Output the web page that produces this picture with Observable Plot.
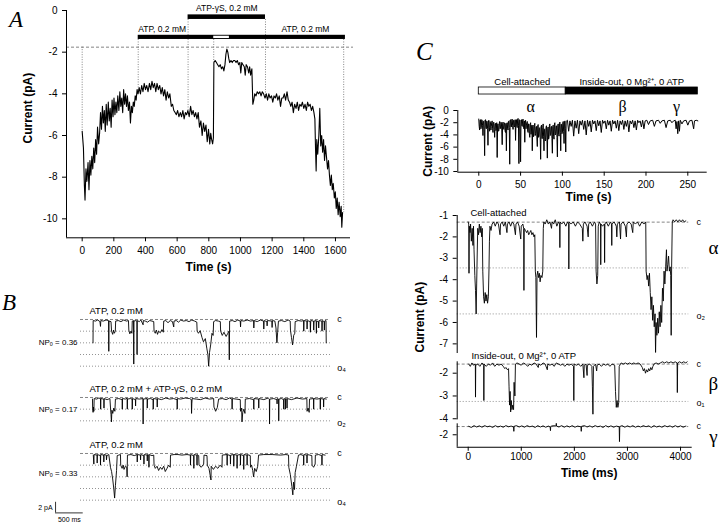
<!DOCTYPE html>
<html><head><meta charset="utf-8">
<script src="https://cdn.jsdelivr.net/npm/d3@7"></script>
<script src="https://cdn.jsdelivr.net/npm/@observablehq/plot@0.6"></script>
<style>
html,body{margin:0;padding:0;background:#fff;}
#page{position:relative;width:720px;height:526px;overflow:hidden;background:#fff;font-family:"Liberation Sans",Arial,sans-serif;}
#page svg{position:absolute;overflow:visible;}
.letter{position:absolute;font-family:"Liberation Serif","Times New Roman",serif;font-style:italic;line-height:1;color:#000;}
</style></head><body><div id="page"></div>
<script>
// ---------------- Panel A data ----------------
const timeTicksA = [0,200,400,600,800,1000,1200,1400,1600];
const currentTicksA = [0,-2,-4,-6,-8,-10];
const traceA = [
[0,-5.8],[8,-6.6],[14,-8.4],[18,-9.1],[24,-7.6],[30,-8.2],[37,-7.3],[43,-8.6],[49,-7.2],[55,-7.9],
[61,-7.0],[67,-7.6],[73,-6.6],[79,-7.3],[85,-6.2],[91,-6.9],[97,-5.6],[104,-6.4],[110,-5.9],[116,-4.9],
[122,-5.7],[128,-4.6],[134,-5.4],[140,-4.8],[146,-5.8],[152,-4.5],[158,-5.5],[165,-4.4],[171,-5.3],[177,-4.7],
[183,-5.6],[189,-4.3],[195,-5.1],[201,-4.2],[207,-5.0],[213,-4.4],[219,-4.9],[225,-4.1],[232,-4.8],[238,-3.9],
[244,-4.6],[250,-4.2],[256,-4.9],[262,-3.8],[268,-4.5],[274,-4.0],[280,-4.6],[286,-4.1],[292,-4.8],[299,-4.4],
[305,-5.4],[311,-4.6],[317,-4.9],[323,-4.4],[329,-4.6],[335,-4.1],[341,-4.3],[347,-3.8],[353,-4.0],[360,-3.7],
[368,-4.0],[376,-3.6],[384,-3.9],[392,-3.5],[400,-3.8],[408,-3.6],[416,-3.9],[425,-3.5],[433,-3.8],[441,-3.4],
[449,-3.7],[457,-3.5],[465,-3.9],[473,-3.5],[481,-3.8],[490,-3.6],[498,-4.0],[506,-3.7],[514,-4.1],[522,-3.8],
[530,-4.3],[538,-3.9],[546,-4.2],[554,-4.0],[563,-4.6],[571,-4.5],[579,-4.8],[587,-4.9],[595,-5.0],[603,-4.8],
[611,-5.1],[620,-4.9],[628,-5.1],[636,-4.8],[644,-5.2],[652,-4.9],[660,-5.0],[668,-4.8],[676,-5.1],[685,-4.6],
[693,-5.0],[701,-4.8],[709,-5.1],[717,-4.9],[725,-5.2],[733,-4.9],[741,-5.6],[750,-5.3],[758,-6.0],[766,-5.4],
[774,-5.8],[782,-5.5],[790,-6.3],[798,-5.7],[806,-6.4],[812,-5.9],[818,-6.2],[824,-6.4],[829,-6.1],[832,-2.5],
[840,-2.4],[848,-2.5],[856,-2.6],[864,-2.7],[872,-2.6],[880,-2.8],[888,-2.7],[895,-2.9],[902,-2.6],[908,-2.1],
[914,-1.85],[920,-2.0],[926,-2.3],[932,-2.5],[940,-2.4],[948,-2.5],[956,-2.4],[964,-2.4],[972,-2.5],[980,-2.4],
[988,-2.6],[996,-2.5],[1002,-3.0],[1008,-2.5],[1016,-2.6],[1024,-2.7],[1030,-3.1],[1036,-2.6],[1044,-2.7],[1052,-3.0],
[1058,-2.7],[1064,-3.1],[1072,-2.8],[1078,-4.5],[1084,-4.3],[1090,-4.0],[1098,-4.1],[1106,-3.9],[1114,-4.0],[1122,-3.9],
[1130,-4.1],[1138,-3.9],[1146,-4.0],[1155,-4.2],[1163,-4.0],[1171,-4.3],[1179,-4.0],[1187,-4.2],[1196,-4.1],[1204,-4.4],
[1212,-4.1],[1220,-4.2],[1228,-4.0],[1236,-4.3],[1245,-4.1],[1253,-4.6],[1261,-4.2],[1269,-4.2],[1277,-4.0],[1285,-4.3],
[1294,-3.9],[1302,-4.3],[1310,-4.4],[1318,-4.6],[1326,-4.4],[1334,-4.9],[1342,-4.5],[1351,-4.7],[1359,-4.4],[1367,-4.8],
[1375,-4.5],[1383,-4.6],[1391,-4.4],[1400,-4.7],[1408,-4.5],[1416,-4.8],[1424,-4.4],[1432,-4.6],[1440,-4.5],[1448,-4.8],
[1456,-4.6],[1464,-4.9],[1470,-5.2],[1474,-6.6],[1478,-7.7],[1482,-6.2],[1488,-6.9],[1495,-6.0],[1501,-4.7],[1507,-6.5],
[1513,-6.0],[1519,-6.8],[1525,-6.2],[1531,-7.2],[1537,-6.5],[1543,-7.0],[1550,-7.6],[1556,-7.2],[1562,-7.9],[1568,-8.4],
[1574,-7.9],[1580,-8.6],[1586,-8.3],[1593,-9.0],[1599,-8.7],[1605,-9.5],[1611,-9.0],[1617,-9.8],[1623,-9.2],[1630,-9.9],
[1636,-9.4],[1640,-10.4],[1645,-9.7]
];
const atpBar = [354, 1663];
const atpGap = [831, 930];
const gsBar = [669, 1158];
const refLevelA = -1.76;
const guideTimesA = [0, 354, 669, 831, 1158, 1652];
const labelsA = ["ATP, 0.2 mM", "ATP-\u03B3S, 0.2 mM", "ATP, 0.2 mM"];

// ---------------- Panel B data ----------------
const levelsB1 = [0,-2.2,-4.4,-6.6,-8.8];
const levelsB2 = [0,-2.2,-4.4];
const levelsB3 = [0,-2.2,-4.4,-6.6,-8.8];
const titlesB = ["ATP, 0.2 mM", "ATP, 0.2 mM + ATP-\u03B3S, 0.2 mM", "ATP, 0.2 mM"];
const npoB = ["0.36", "0.17", "0.33"];
const openLabelsB = ["o\u2084", "o\u2082", "o\u2084"];
const scaleBarB = [500, 2]; // ms, pA
const traceB1 = [
[15,-4.4],[18,-0.2],[60,-0.3],[100,-0.1],[140,-0.4],[150,-1.3],[156,-0.2],[200,-0.3],[250,-0.1],[296,-0.2],
[300,-6.0],[304,-0.3],[340,-0.4],[350,-2.2],[370,-2.8],[385,-2.0],[400,-2.6],[418,-2.2],[424,-0.3],[470,-0.2],
[520,-0.4],[570,-0.1],[620,-0.3],[655,-0.2],[662,-2.0],[680,-2.7],[700,-2.2],[718,-2.6],[724,-0.3],[748,-0.2],
[751,-8.4],[754,-0.3],[790,-0.2],[808,-0.3],[811,-6.6],[814,-0.2],[850,-0.4],[880,-0.1],[920,-1.0],[924,-0.2],
[960,-0.3],[1000,-0.5],[1040,-0.2],[1080,-0.3],[1112,-0.4],[1118,-2.2],[1140,-2.6],[1160,-2.0],[1180,-2.8],[1200,-2.2],
[1230,-2.5],[1260,-1.9],[1285,-2.4],[1292,-0.3],[1330,-0.2],[1370,-0.6],[1410,-0.2],[1450,-0.4],[1473,-1.4],[1478,-0.3],
[1520,-0.2],[1560,-0.5],[1600,-0.1],[1650,-0.3],[1700,-0.2],[1750,-0.4],[1800,-0.1],[1850,-0.3],[1890,-0.5],[1896,-2.2],
[1920,-2.6],[1950,-2.1],[1984,-3.4],[2010,-4.2],[2044,-3.6],[2070,-5.4],[2090,-6.6],[2104,-8.8],[2120,-6.2],[2140,-4.8],
[2164,-2.6],[2185,-3.0],[2194,-0.4],[2230,-0.2],[2280,-0.3],[2315,-0.4],[2320,-2.2],[2350,-3.0],[2380,-2.4],[2420,-3.2],
[2450,-2.6],[2470,-2.2],[2477,-7.6],[2483,-0.3],[2530,-0.2],[2580,-0.4],[2630,-0.1],[2675,-0.3],[2680,-1.4],[2686,-0.2],
[2740,-0.3],[2800,-0.1],[2860,-0.3],[2916,-0.2],[2920,-1.6],[2926,-0.2],[2980,-0.4],[3040,-0.1],[3096,-0.3],[3100,-1.8],
[3106,-0.2],[3156,-0.4],[3160,-1.2],[3166,-0.2],[3246,-0.3],[3250,-1.5],[3256,-0.2],[3300,-0.3],[3320,-1.6],[3337,-4.4],
[3350,-2.4],[3365,-0.3],[3420,-0.2],[3480,-0.4],[3540,-0.1],[3577,-0.3],[3582,-2.0],[3600,-3.4],[3620,-4.8],[3640,-3.0],
[3660,-2.6],[3667,-0.4],[3720,-0.2],[3780,-0.3],[3818,-0.2],[3822,-2.2],[3828,-0.2],[3878,-0.3],[3882,-1.8],[3888,-0.2],
[3938,-0.4],[3942,-2.4],[3948,-0.2],[3998,-0.3],[4002,-2.0],[4008,-0.3],[4046,-0.2],[4050,-2.6],[4056,-0.3],[4088,-0.4],
[4092,-1.6],[4098,-0.2],[4148,-0.3],[4152,-2.2],[4158,-0.2],[4190,-0.4],[4194,-2.0],[4200,-0.3],[4224,-0.2],[4228,-4.4]
];
const traceB2 = [
[5,-0.3],[8,-2.0],[16,-2.8],[24,-1.8],[30,-2.6],[36,-0.2],[80,-0.3],[120,-0.1],[150,-0.2],[153,-2.2],
[157,-0.2],[210,-0.3],[213,-2.0],[217,-0.2],[270,-0.4],[320,-0.2],[330,-1.8],[340,-3.2],[348,-4.6],[356,-2.4],
[372,-3.0],[390,-2.0],[410,-2.6],[420,-0.3],[480,-0.2],[541,-0.4],[544,-2.2],[548,-0.2],[600,-0.3],[631,-0.1],
[634,-2.2],[638,-0.3],[690,-0.2],[721,-0.3],[724,-2.2],[728,-0.2],[781,-0.4],[784,-1.6],[788,-0.2],[850,-0.3],
[917,-0.2],[920,-5.0],[924,-0.3],[992,-0.2],[995,-2.0],[999,-0.3],[1050,-0.2],[1100,-0.4],[1103,-2.2],[1107,-0.2],
[1172,-0.3],[1175,-1.8],[1179,-0.2],[1250,-0.4],[1330,-0.1],[1400,-0.3],[1470,-0.2],[1533,-0.4],[1536,-2.2],[1540,-0.2],
[1600,-0.3],[1680,-0.1],[1760,-0.2],[1791,-0.4],[1795,-3.0],[1800,-1.2],[1806,-0.2],[1880,-0.3],[1960,-0.4],[2040,-0.1],
[2120,-0.3],[2194,-0.2],[2200,-1.8],[2230,-2.6],[2260,-1.9],[2284,-0.3],[2350,-0.2],[2420,-0.4],[2480,-0.1],[2525,-0.3],
[2528,-2.2],[2532,-0.2],[2600,-0.3],[2675,-0.4],[2680,-2.6],[2700,-2.0],[2706,-4.6],[2720,-2.8],[2740,-2.2],[2760,-3.0],
[2766,-0.3],[2840,-0.2],[2916,-0.4],[2919,-2.2],[2923,-0.2],[3006,-0.3],[3009,-2.0],[3013,-0.2],[3100,-0.4],[3180,-0.1],
[3201,-0.3],[3204,-5.0],[3208,-0.3],[3280,-0.2],[3337,-0.4],[3340,-1.2],[3344,-0.2],[3367,-0.3],[3370,-4.4],[3374,-0.3],
[3420,-0.2],[3457,-0.4],[3460,-2.2],[3464,-0.2],[3487,-0.3],[3490,-2.2],[3494,-0.2],[3517,-0.3],[3520,-2.0],[3524,-0.2],
[3600,-0.4],[3700,-0.1],[3800,-0.3],[3878,-0.2],[3882,-2.6],[3900,-2.0],[3920,-2.8],[3926,-0.3],[3998,-0.2],[4001,-2.2],
[4005,-0.2],[4060,-0.3],[4118,-0.2],[4121,-2.2],[4125,-0.2],[4178,-0.3],[4181,-1.8],[4185,-0.2],[4230,-0.3]
];
const traceB3 = [
[20,-0.3],[30,-2.0],[34,-0.2],[88,-0.3],[90,-1.8],[94,-0.2],[148,-0.4],[150,-2.2],[154,-0.2],[208,-0.3],
[210,-1.6],[214,-0.2],[255,-0.3],[258,-1.2],[265,-0.4],[300,-0.2],[330,-2.6],[350,-3.4],[370,-4.8],[390,-6.6],
[405,-8.4],[420,-6.0],[440,-3.2],[452,-0.4],[480,-0.3],[511,-0.2],[515,-2.2],[540,-2.8],[560,-2.2],[575,-3.0],
[600,-2.4],[625,-2.6],[631,-4.4],[637,-0.3],[700,-0.2],[760,-0.4],[811,-0.2],[814,-1.6],[818,-0.2],[871,-0.3],
[874,-1.2],[878,-0.2],[932,-0.4],[935,-2.0],[939,-0.2],[992,-0.3],[995,-1.4],[999,-0.2],[1022,-0.3],[1025,-2.6],
[1029,-0.2],[1080,-0.4],[1112,-0.3],[1118,-2.2],[1140,-2.8],[1172,-2.4],[1200,-3.2],[1232,-2.6],[1260,-3.0],[1292,-2.4],
[1320,-3.4],[1352,-2.8],[1380,-2.2],[1410,-2.6],[1415,-0.3],[1480,-0.2],[1550,-0.2],[1620,-0.3],[1713,-0.2],[1773,-0.3],
[1776,-2.2],[1780,-0.2],[1833,-0.4],[1836,-2.8],[1840,-0.2],[1890,-0.3],[1894,-2.2],[1898,-0.2],[1924,-0.4],[1930,-2.2],
[1970,-2.6],[2014,-2.0],[2020,-0.3],[2074,-0.4],[2080,-2.2],[2110,-2.8],[2146,-5.0],[2150,-2.4],[2190,-3.0],[2230,-2.4],
[2270,-2.8],[2310,-2.2],[2345,-2.6],[2350,-0.3],[2435,-0.2],[2438,-2.2],[2442,-0.2],[2495,-0.4],[2498,-2.0],[2502,-0.3],
[2555,-0.2],[2558,-2.4],[2562,-0.2],[2615,-0.3],[2618,-2.8],[2622,-0.3],[2675,-0.2],[2678,-2.2],[2682,-0.2],[2735,-0.4],
[2738,-3.0],[2742,-0.2],[2796,-0.3],[2799,-2.2],[2803,-0.2],[2856,-0.4],[2860,-2.6],[2880,-2.2],[2900,-3.2],[2916,-4.4],
[2935,-2.8],[2964,-3.4],[2990,-2.4],[3006,-0.3],[3100,-0.2],[3250,-0.2],[3400,-0.3],[3500,-0.2],[3547,-0.3],[3552,-2.6],
[3580,-4.0],[3607,-6.2],[3625,-7.8],[3637,-5.4],[3655,-6.8],[3667,-3.6],[3690,-2.4],[3727,-0.3],[3770,-0.2],[3818,-0.4],
[3821,-2.2],[3825,-0.2],[3878,-0.3],[3881,-1.8],[3885,-0.2],[3930,-0.3],[3968,-0.4],[3972,-2.2],[4000,-2.6],[4028,-2.0],
[4032,-0.3],[4090,-0.2],[4148,-0.4],[4151,-2.2],[4155,-0.2],[4208,-0.3]
];

// ---------------- Panel C data ----------------
const timeTicksC = [0,50,100,150,200,250];
const currentTicksC = [0,-2,-4,-6,-8,-10];
const cellAttachedBar = [0, 104];
const insideOutBar = [104, 262];
const barLabelsC = ["Cell-attached", "Inside-out, 0 Mg\u00B2\u207A, 0 ATP"];
const greekC = ["\u03B1", "\u03B2", "\u03B3"];
const greekTimesC = [62, 172, 236.5];
const traceCtop = [
[0,-1.4],[0.5,-2.6],[1,-3.2],[1.5,-1.6],[2,-1.5],[2.5,-3.0],[3,-2.8],[3.5,-1.5],[4,-1.6],[4.5,-2.4],[5,-4.1],[5.5,-1.8],[6,-1.7],[6.5,-3.1],[7,-7.4],[7.5,-1.6],[8,-1.5],[8.5,-2.7],[9,-3.0],[9.5,-1.7],
[10,-1.8],[10.5,-2.9],[11,-5.7],[11.5,-1.9],[12,-1.6],[12.5,-2.8],[13,-3.4],[13.5,-1.8],[14,-2.0],[14.5,-3.2],[15,-2.6],[15.5,-1.9],[16,-1.7],[16.5,-2.9],[17,-3.6],[17.5,-2.0],[18,-1.9],[18.5,-3.1],[19,-4.4],[19.5,-2.2],
[20,-2.1],[20.5,-3.3],[21,-3.0],[21.5,-2.0],[22,-7.7],[22.5,-2.4],[23,-2.2],[23.5,-3.4],[24,-3.3],[24.5,-2.1],[25,-1.8],[25.5,-3.0],[26,-2.9],[26.5,-1.9],[27,-2.0],[27.5,-3.2],[28,-5.6],[28.5,-2.2],[29,-1.9],[29.5,-3.0],
[30,-3.1],[30.5,-2.0],[31,-2.2],[31.5,-3.4],[32,-3.6],[32.5,-2.1],[33,-6.6],[33.5,-2.3],[34,-2.0],[34.5,-3.0],[35,-3.2],[35.5,-1.8],[36,-1.7],[36.5,-2.8],[37,-8.8],[37.5,-1.6],[38,-1.5],[38.5,-2.6],[39,-2.7],[39.5,-1.5],
[40,-1.4],[40.5,-2.5],[41,-3.1],[41.5,-1.6],[42,-1.6],[42.5,-2.7],[43,-2.5],[43.5,-1.5],[44,-4.9],[44.5,-1.7],[45,-1.5],[45.5,-2.6],[46,-2.8],[46.5,-1.4],[47,-1.3],[47.5,-2.4],[48,-8.7],[48.5,-1.5],[49,-1.6],[49.5,-2.9],
[50,-8.4],[50.5,-1.6],[51,-1.5],[51.5,-2.5],[52,-2.6],[52.5,-1.5],[53,-1.4],[53.5,-2.8],[54,-3.0],[54.5,-1.7],[55,-5.2],[55.5,-1.9],[56,-1.6],[56.5,-3.0],[57,-2.4],[57.5,-2.0],[58,-1.8],[58.5,-3.4],[59,-3.6],[59.5,-2.2],
[60,-2.2],[60.5,-3.8],[61,-4.4],[61.5,-2.3],[62,-2.0],[62.5,-3.9],[63,-3.2],[63.5,-2.4],[64,-6.6],[64.5,-2.6],[65,-2.4],[65.5,-4.3],[66,-4.0],[66.5,-2.5],[67,-2.1],[67.5,-4.1],[68,-3.8],[68.5,-2.7],[69,-2.6],[69.5,-4.5],
[70,-5.9],[70.5,-2.5],[71,-2.3],[71.5,-4.4],[72,-4.2],[72.5,-2.9],[73,-2.8],[73.5,-4.8],[74,-8.0],[74.5,-2.6],[75,-2.4],[75.5,-4.6],[76,-4.6],[76.5,-2.8],[77,-2.2],[77.5,-4.2],[78,-6.6],[78.5,-3.1],[79,-3.0],[79.5,-5.0],
[80,-4.8],[80.5,-2.7],[81,-2.5],[81.5,-4.5],[82,-7.8],[82.5,-2.9],[83,-2.7],[83.5,-4.7],[84,-4.4],[84.5,-2.4],[85,-2.2],[85.5,-4.1],[86,-3.9],[86.5,-2.8],[87,-2.6],[87.5,-4.6],[88,-7.0],[88.5,-2.6],[89,-2.4],[89.5,-4.3],
[90,-4.7],[90.5,-2.2],[91,-2.0],[91.5,-4.0],[92,-3.8],[92.5,-2.6],[93,-2.5],[93.5,-4.4],[94,-7.6],[94.5,-2.4],[95,-2.2],[95.5,-3.9],[96,-4.2],[96.5,-2.1],[97,-1.9],[97.5,-3.6],[98,-6.6],[98.5,-2.2],[99,-2.3],[99.5,-3.8],
[100,-3.6],[100.5,-2.0],[101,-1.8],[101.5,-3.4],[102,-5.4],[102.5,-1.8],[103,-1.7],[103.5,-3.0],[104,-6.8],[104.5,-1.8],[105,-1.7],
[106,-1.6],[107.5,-3.4],[109,-1.7],[110.5,-2.6],[112,-1.6],[113.5,-4.2],[115,-1.7],[116.5,-2.9],[118,-1.6],[119.5,-3.8],
[121,-1.7],[122.5,-2.4],[124,-1.6],[125.5,-3.1],[127,-1.7],[128.5,-4.0],[130,-1.6],[131.5,-2.6],[133,-1.7],[134.5,-3.5],
[136,-1.6],[137.5,-2.2],[139,-1.7],[140.5,-3.3],[142,-1.6],[143.5,-2.5],[145,-1.7],[146.5,-3.6],[148,-1.6],[149.5,-2.1],
[151,-1.7],[152.5,-3.0],[154,-1.6],[155.5,-2.4],[157,-1.7],[158.5,-3.4],[160,-1.6],[161.5,-2.2],[163,-1.7],[164.5,-2.9],
[166,-1.6],[167.5,-3.3],[169,-1.7],[170.5,-2.3],[172,-1.6],[173.5,-3.1],[175,-1.7],[176.5,-2.6],[178,-1.6],[179.5,-3.5],
[181,-1.7],[182.5,-2.2],[184,-1.6],[185.5,-2.8],[187,-1.7],[188.5,-3.2],[190,-1.6],[191.5,-2.0],[193,-1.7],[194.5,-2.7],
[196,-1.6],[197.5,-3.0],[199,-1.7],[201,-1.6],[203,-2.3],[205,-1.7],[208,-1.6],[210,-2.6],[212,-1.7],[215,-1.6],
[217,-2.1],[219,-1.7],[222,-1.6],[224,-2.8],[226,-1.7],[229,-1.6],[231,-2.0],[233,-1.7],[235,-1.6],[236,-3.0],
[237,-1.8],[238,-3.8],[239,-1.7],[240,-3.4],[241,-1.6],[243,-2.2],[245,-1.7],[248,-1.6],[250,-2.4],[252,-1.7],
[255,-1.6],[257,-3.0],[258,-1.7],[260,-1.6],[262,-1.7]
];
const msTicks = [0,1000,2000,3000,4000];
const alphaTicks = [-1,-2,-3,-4,-5,-6,-7];
const betaTicks = [-2,-3,-4];
const gammaTicks = [-2];
const levelsAlpha = [-1.31, -3.45, -5.6];
const levelsBeta = [-1.6, -3.24];
const levelsGamma = [-1.64];
const traceAlpha = [
[0,-1.3],[10,-1.4],[15,-3.7],[22,-1.5],[35,-1.8],[45,-1.4],[60,-2.2],[75,-1.6],[90,-2.4],[100,-1.5],
[110,-2.6],[125,-3.8],[138,-4.5],[150,-5.6],[160,-4.2],[170,-2.8],[180,-1.6],[195,-1.9],[210,-1.4],[225,-1.8],
[240,-1.5],[255,-2.0],[265,-1.6],[275,-3.6],[290,-4.8],[305,-5.1],[320,-4.6],[335,-5.0],[350,-4.7],[365,-5.1],
[380,-4.8],[392,-3.5],[400,-2.2],[410,-1.5],[430,-1.7],[450,-1.4],[480,-1.3],[510,-1.5],[540,-1.3],[570,-1.4],
[600,-1.9],[610,-1.4],[640,-1.3],[670,-1.5],[700,-1.3],[730,-1.8],[740,-1.4],[770,-1.3],[800,-1.5],[830,-1.3],
[860,-1.4],[890,-1.9],[900,-1.4],[930,-1.3],[960,-1.5],[990,-2.1],[1000,-1.5],[1030,-1.4],[1045,-1.6],[1050,-4.5],
[1056,-1.6],[1080,-1.7],[1100,-1.8],[1120,-1.7],[1140,-1.9],[1160,-1.8],[1180,-1.7],[1200,-1.9],[1220,-1.8],[1240,-2.0],
[1255,-1.9],[1265,-3.6],[1275,-3.9],[1287,-6.7],[1297,-3.8],[1310,-3.6],[1325,-3.9],[1340,-3.7],[1355,-4.1],[1370,-3.8],
[1390,-3.9],[1405,-3.6],[1415,-1.6],[1425,-1.3],[1450,-1.4],[1480,-1.2],[1510,-1.4],[1540,-1.3],[1570,-1.6],[1580,-1.3],
[1610,-1.4],[1640,-1.2],[1670,-1.5],[1700,-1.3],[1722,-1.4],[1727,-2.5],[1732,-1.3],[1760,-1.4],[1800,-1.3],[1840,-1.5],
[1870,-1.3],[1893,-1.4],[1896,-3.5],[1900,-1.3],[1940,-1.4],[1980,-1.3],[2020,-1.5],[2060,-1.3],[2100,-1.4],[2150,-1.6],
[2160,-2.2],[2170,-1.4],[2200,-1.3],[2240,-1.5],[2260,-2.0],[2270,-1.4],[2300,-1.3],[2340,-1.5],[2380,-1.3],[2400,-1.4],
[2410,-3.6],[2425,-4.2],[2440,-3.8],[2450,-1.5],[2470,-1.3],[2493,-1.4],[2497,-3.3],[2502,-1.4],[2530,-1.5],[2565,-1.4],
[2570,-3.2],[2575,-1.4],[2600,-1.3],[2640,-1.5],[2680,-1.3],[2700,-1.4],[2705,-2.4],[2710,-1.4],[2750,-1.3],[2790,-1.5],
[2800,-2.0],[2810,-1.4],[2850,-1.3],[2870,-2.1],[2880,-1.4],[2920,-1.3],[2960,-1.5],[2980,-2.0],[2990,-1.4],[3030,-1.3],
[3070,-1.4],[3100,-1.8],[3110,-1.3],[3150,-1.4],[3190,-1.3],[3230,-1.5],[3270,-1.3],[3310,-1.4],[3345,-1.3],[3352,-3.6],
[3370,-4.0],[3385,-3.8],[3400,-4.3],[3415,-3.7],[3430,-4.6],[3445,-5.4],[3460,-4.8],[3475,-5.9],[3490,-5.2],[3505,-6.2],
[3520,-5.6],[3530,-7.4],[3540,-6.0],[3555,-6.6],[3570,-5.8],[3585,-6.5],[3600,-5.5],[3615,-6.2],[3630,-5.2],[3645,-6.0],
[3660,-4.4],[3675,-5.0],[3690,-3.6],[3705,-4.2],[3720,-3.4],[3735,-2.6],[3745,-3.6],[3760,-3.3],[3775,-2.9],[3790,-3.6],
[3805,-3.4],[3815,-3.8],[3824,-6.6],[3832,-3.5],[3845,-1.3],[3860,-1.2],[3890,-1.3],[3920,-1.2],[3950,-1.3],[3980,-1.2],
[4010,-1.3],[4040,-1.2],[4070,-1.3],[4100,-1.25]
];
const traceBeta = [
[10,-1.6],[40,-1.7],[70,-1.55],[100,-1.65],[135,-1.6],[138,-3.05],[142,-1.65],[180,-1.6],[220,-1.7],[260,-1.55],
[292,-1.65],[295,-3.2],[299,-1.6],[340,-1.7],[380,-1.6],[420,-1.65],[460,-1.55],[500,-1.7],[540,-1.6],[580,-1.65],
[620,-1.6],[660,-1.7],[690,-1.8],[710,-1.75],[740,-1.85],[760,-1.8],[770,-2.6],[780,-3.4],[790,-2.8],[800,-3.7],
[812,-3.2],[825,-3.6],[840,-3.4],[855,-3.6],[865,-2.4],[880,-3.0],[890,-1.6],[920,-1.55],[960,-1.6],[1000,-1.65],
[1040,-1.55],[1080,-1.6],[1120,-1.7],[1160,-1.6],[1200,-1.65],[1240,-1.55],[1280,-1.6],[1320,-1.75],[1330,-1.6],[1370,-1.65],
[1410,-1.55],[1450,-1.6],[1490,-1.85],[1500,-1.6],[1540,-1.65],[1580,-1.6],[1620,-1.7],[1660,-1.55],[1700,-1.6],[1740,-1.65],
[1780,-1.6],[1820,-1.7],[1860,-1.6],[1900,-1.65],[1940,-1.6],[1985,-1.7],[1990,-3.2],[1995,-1.6],[2040,-1.65],[2080,-1.6],
[2120,-1.7],[2160,-1.6],[2180,-2.2],[2186,-1.65],[2220,-1.6],[2240,-2.1],[2246,-1.65],[2290,-1.6],[2330,-1.7],[2340,-2.6],
[2350,-3.8],[2360,-1.7],[2400,-1.6],[2420,-1.9],[2430,-1.65],[2470,-1.6],[2510,-1.7],[2550,-1.6],[2590,-1.65],[2630,-1.6],
[2670,-1.7],[2710,-1.6],[2760,-1.65],[2775,-2.8],[2790,-3.5],[2805,-3.2],[2820,-3.5],[2835,-3.3],[2845,-1.7],[2880,-1.55],
[2920,-1.6],[2960,-1.55],[3000,-1.6],[3040,-1.55],[3080,-1.6],[3120,-1.55],[3160,-1.6],[3200,-1.55],[3240,-1.6],[3280,-1.75],
[3300,-1.9],[3320,-1.8],[3340,-2.0],[3360,-1.85],[3380,-1.95],[3400,-1.8],[3420,-1.9],[3440,-1.75],[3460,-1.85],[3480,-1.7],
[3500,-1.6],[3540,-1.55],[3580,-1.6],[3620,-1.55],[3660,-1.5],[3700,-1.55],[3740,-1.5],[3780,-1.55],[3820,-1.5],[3860,-1.55],
[3900,-1.5],[3935,-1.55],[3940,-2.85],[3946,-1.55],[3980,-1.5],[4020,-1.55],[4060,-1.5],[4100,-1.55],[4125,-1.5]
];
const traceGamma = [
[10,-1.63],[60,-1.68],[110,-1.6],[160,-1.66],[210,-1.61],[260,-1.67],[310,-1.6],[360,-1.65],[410,-1.62],[460,-1.68],
[510,-1.6],[560,-1.66],[610,-1.62],[660,-1.67],[710,-1.6],[760,-1.65],[810,-1.62],[855,-1.66],[860,-1.85],[865,-1.63],
[910,-1.6],[960,-1.66],[1010,-1.61],[1060,-1.67],[1110,-1.6],[1160,-1.65],[1210,-1.62],[1260,-1.68],[1310,-1.6],[1360,-1.66],
[1410,-1.61],[1460,-1.67],[1510,-1.62],[1545,-1.66],[1550,-1.82],[1555,-1.63],[1610,-1.6],[1655,-1.62],[1660,-1.5],[1665,-1.62],
[1710,-1.66],[1760,-1.6],[1810,-1.67],[1860,-1.61],[1910,-1.66],[1960,-1.6],[2010,-1.67],[2060,-1.62],[2125,-1.65],[2130,-1.85],
[2135,-1.63],[2190,-1.6],[2240,-1.66],[2290,-1.61],[2340,-1.67],[2390,-1.6],[2440,-1.65],[2490,-1.62],[2540,-1.68],[2590,-1.6],
[2640,-1.66],[2690,-1.61],[2740,-1.67],[2790,-1.62],[2845,-1.65],[2850,-2.3],[2856,-1.64],[2900,-1.6],[2950,-1.67],[3000,-1.61],
[3050,-1.66],[3100,-1.6],[3150,-1.67],[3200,-1.62],[3250,-1.66],[3300,-1.6],[3350,-1.65],[3400,-1.61],[3450,-1.68],[3500,-1.6],
[3550,-1.66],[3600,-1.62],[3650,-1.67],[3700,-1.6],[3750,-1.65],[3800,-1.61],[3850,-1.67],[3900,-1.6],[3950,-1.66],[4000,-1.61],
[4050,-1.67],[4100,-1.62]
];

// ---------------- helpers ----------------
const SANS = "'Liberation Sans', Arial, sans-serif";
const SERIF = "'Liberation Serif', 'Times New Roman', serif";
const page = document.getElementById("page");
const baseStyle = {background: "transparent", fontFamily: SANS, fontSize: "10px", overflow: "visible", maxWidth: "none"};
const fmt = d => String(d);
const X = d => d[0], Y = d => d[1];
const mid = a => (a[0] + a[1]) / 2;
function frame(left, top, width, height, fx0, fx1, fy0, fy1) {
  return {width, height, marginLeft: fx0 - left, marginRight: left + width - fx1, marginTop: fy0 - top, marginBottom: top + height - fy1};
}
function place(chart, left, top) {
  chart.style.position = "absolute";
  chart.style.left = left + "px";
  chart.style.top = top + "px";
  page.appendChild(chart);
}
function valueAt(trace, t) {
  let best = trace[0];
  for (const p of trace) if (Math.abs(p[0] - t) < Math.abs(best[0] - t)) best = p;
  return best[1];
}
function letter(txt, left, top, size) {
  const d = document.createElement("div");
  d.className = "letter"; d.textContent = txt;
  d.style.left = left + "px"; d.style.top = top + "px"; d.style.fontSize = size + "px";
  page.appendChild(d);
}
const axisTitle = {fontWeight: "bold", fontSize: 12, textAnchor: "middle", lineAnchor: "middle"};
const dashC = {stroke: "#666", strokeWidth: 0.8, strokeDasharray: "3,2"};
const dotO = {stroke: "#777", strokeWidth: 0.8, strokeDasharray: "1,2"};

// ---------------- Panel A ----------------
{
  const xd = [-99, 1695], yd = [-10.91, 0];
  const atpY = [-1.19, -1.39], gsY = [-0.21, -0.43];
  const guideTop = t => (t === gsBar[0] || t === gsBar[1]) ? gsY[1] : (t < atpBar[0] ? refLevelA : atpY[1]);
  const chart = Plot.plot({
    ...frame(0, 0, 360, 285, 66, 350, 10, 237.3),
    style: baseStyle,
    x: {domain: xd, ticks: timeTicksA, tickSize: 4, tickFormat: fmt, label: null},
    y: {domain: yd, ticks: currentTicksA, tickSize: 4, tickFormat: fmt, label: null},
    marks: [
      Plot.ruleY([refLevelA], {x1: xd[0], x2: 1714, ...dashC}),
      Plot.ruleX(guideTimesA, {x: d => d, y1: d => guideTop(d), y2: d => valueAt(traceA, d), stroke: "#666", strokeWidth: 0.8, strokeDasharray: "1,1.5"}),
      Plot.rect([atpBar], {x1: X, x2: Y, y1: atpY[0], y2: atpY[1], fill: "black"}),
      Plot.rect([atpGap], {x1: X, x2: Y, y1: -1.235, y2: -1.345, fill: "white"}),
      Plot.rect([gsBar], {x1: X, x2: Y, y1: gsY[0], y2: gsY[1], fill: "black"}),
      Plot.text([labelsA[0]], {text: d => d, x: atpBar[0], y: atpY[0], dy: -3, textAnchor: "start", lineAnchor: "bottom", fontSize: 8.5}),
      Plot.text([labelsA[1]], {text: d => d, x: mid(gsBar), y: gsY[0], dy: -4, lineAnchor: "bottom", fontSize: 8.5}),
      Plot.text([labelsA[2]], {text: d => d, x: mid([gsBar[1], atpBar[1]]), y: atpY[0], dy: -3, lineAnchor: "bottom", fontSize: 8.5}),
      Plot.line(traceA, {x: X, y: Y, stroke: "black", strokeWidth: 1.1}),
      Plot.ruleX([xd[0]], {y1: yd[0], y2: yd[1], stroke: "black"}),
      Plot.ruleY([yd[0]], {x1: xd[0], x2: xd[1], stroke: "black"}),
      Plot.text(["Time (s)"], {text: d => d, frameAnchor: "bottom", dy: 29, ...axisTitle}),
      Plot.text(["Current (pA)"], {text: d => d, frameAnchor: "left", dx: -38, dy: -16, rotate: -90, ...axisTitle})
    ]
  });
  place(chart, 0, 0);
}
letter("A", 9, 8, 23);

// ---------------- Panel B ----------------
function drawB(trace, levels, title, npo, openLabel, cPy, npoLevel, withScale) {
  const k = 11.67 / 2.2; // px per pA
  const xd = [-211, 4305];
  const yd = [withScale ? -12 : levels[levels.length - 1] - 0.8, 0.6];
  const top = cPy - 30;
  const fy0 = cPy - yd[1] * k, fy1 = cPy - yd[0] * k;
  const height = (fy1 - top) + 12;
  const marks = [
    Plot.ruleY([levels[0]], {x1: xd[0], x2: xd[1], ...dashC}),
    Plot.ruleY(levels.slice(1), {x1: xd[0], x2: xd[1], ...dotO}),
    Plot.line(trace, {x: X, y: Y, stroke: "black", strokeWidth: 0.9}),
    Plot.text([title], {text: d => d, x: -49, y: 0, dy: -9, textAnchor: "start", fontSize: 9.5}),
    Plot.text(["c"], {text: d => d, x: 4426, y: 0, textAnchor: "start", fontSize: 9}),
    Plot.text([openLabel], {text: d => d, x: 4426, y: levels[levels.length - 1], dy: 2, textAnchor: "start", fontSize: 9}),
    Plot.text(["NP\u2092 = " + npo], {text: d => d, x: -265, y: npoLevel, textAnchor: "end", fontSize: 8})
  ];
  if (withScale) {
    const x0 = -662, y0 = -11.2;
    marks.push(
      Plot.ruleX([x0], {y1: y0, y2: y0 + scaleBarB[1], stroke: "black", strokeWidth: 0.8}),
      Plot.ruleY([y0], {x1: x0, x2: x0 + scaleBarB[0], stroke: "black", strokeWidth: 0.8}),
      Plot.text([scaleBarB[1] + " pA"], {text: d => d, x: x0, y: y0 + 0.9, dx: -3, textAnchor: "end", fontSize: 7}),
      Plot.text([scaleBarB[0] + " ms"], {text: d => d, x: x0 + scaleBarB[0] / 2, y: y0, dy: 7, fontSize: 7})
    );
  }
  const chart = Plot.plot({
    ...frame(0, top, 360, height, 80, 330, fy0, fy1),
    style: baseStyle,
    x: {domain: xd, axis: null},
    y: {domain: yd, axis: null},
    marks
  });
  place(chart, 0, top);
}
drawB(traceB1, levelsB1, titlesB[0], npoB[0], openLabelsB[0], 319, -4.4, false);
drawB(traceB2, levelsB2, titlesB[1], npoB[1], openLabelsB[1], 397, -2.2, false);
drawB(traceB3, levelsB3, titlesB[2], npoB[2], openLabelsB[2], 453.3, -3.7, true);
letter("B", 2, 291, 23);

// ---------------- Panel C overview ----------------
{
  const xd = [-25.1, 273.2], yd = [-10.11, 0];
  const barY = [2.62, 3.77];
  const chart = Plot.plot({
    ...frame(400, 40, 320, 170, 457.3, 706.7, 110, 171.7),
    style: baseStyle,
    x: {domain: xd, ticks: timeTicksC, tickSize: 4, tickFormat: fmt, label: null},
    y: {domain: yd, ticks: currentTicksC, tickSize: 4, tickFormat: fmt, label: null},
    marks: [
      Plot.rect([cellAttachedBar], {x1: X, x2: Y, y1: barY[0], y2: barY[1], fill: "white", stroke: "black", strokeWidth: 0.8}),
      Plot.rect([insideOutBar], {x1: X, x2: Y, y1: barY[0], y2: barY[1], fill: "black", stroke: "black", strokeWidth: 0.8}),
      Plot.text([barLabelsC[0]], {text: d => d, x: mid(cellAttachedBar), y: barY[1], dy: -2, lineAnchor: "bottom", fontSize: 9.5}),
      Plot.text([barLabelsC[1]], {text: d => d, x: mid(insideOutBar), y: barY[1], dy: -2, lineAnchor: "bottom", fontSize: 9.5}),
      Plot.text(greekC, {text: d => d, x: (d, i) => greekTimesC[i], y: 0, dy: 1.5, lineAnchor: "bottom", fontFamily: SERIF, fontSize: 16}),
      Plot.line(traceCtop, {x: X, y: Y, stroke: "black", strokeWidth: 1}),
      Plot.ruleX([xd[0]], {y1: yd[0], y2: yd[1], stroke: "black"}),
      Plot.ruleY([yd[0]], {x1: xd[0], x2: xd[1], stroke: "black"}),
      Plot.text(["Time (s)"], {text: d => d, frameAnchor: "bottom", dx: 6, dy: 25, ...axisTitle}),
      Plot.text(["Current (pA)"], {text: d => d, frameAnchor: "left", dx: -30, rotate: -90, ...axisTitle})
    ]
  });
  place(chart, 400, 40);
}
letter("C", 416, 39, 25);

// ---------------- Panel C expanded traces ----------------
const xdC = [-207, 4220];
const lineEnd = 4155, labelX = 4301, greekX = 4620;
{
  const yd = [-7.45, -1];
  const chart = Plot.plot({
    ...frame(400, 200, 320, 160, 456.7, 691.7, 215, 353),
    style: baseStyle,
    x: {domain: xdC, axis: null},
    y: {domain: yd, ticks: alphaTicks, tickSize: 4, tickFormat: fmt, label: null},
    marks: [
      Plot.ruleY([levelsAlpha[0]], {x1: xdC[0], x2: lineEnd, ...dashC}),
      Plot.ruleY(levelsAlpha.slice(1), {x1: xdC[0], x2: lineEnd, ...dotO}),
      Plot.line(traceAlpha, {x: X, y: Y, stroke: "black", strokeWidth: 0.9}),
      Plot.ruleX([xdC[0]], {y1: yd[0], y2: yd[1], stroke: "black"}),
      Plot.text([barLabelsC[0]], {text: d => d, x: 43, y: -1, dy: 0.5, textAnchor: "start", lineAnchor: "bottom", fontSize: 9.5}),
      Plot.text(["c"], {text: d => d, x: labelX, y: levelsAlpha[0], textAnchor: "start", fontSize: 9}),
      Plot.text(["o\u2082"], {text: d => d, x: labelX, y: levelsAlpha[2], dy: 2, textAnchor: "start", fontSize: 9}),
      Plot.text([greekC[0]], {text: d => d, x: greekX, y: -2.5, fontFamily: SERIF, fontSize: 19}),
      Plot.text(["Current (pA)"], {text: d => d, frameAnchor: "left", dx: -36.7, dy: 32.7, rotate: -90, ...axisTitle})
    ]
  });
  place(chart, 400, 200);
}
{
  const yd = [-4.05, -1.5];
  const chart = Plot.plot({
    ...frame(400, 345, 320, 80, 456.7, 691.7, 361.3, 419.4),
    style: baseStyle,
    x: {domain: xdC, axis: null},
    y: {domain: yd, ticks: betaTicks, tickSize: 4, tickFormat: fmt, label: null},
    marks: [
      Plot.ruleY([levelsBeta[0]], {x1: xdC[0], x2: lineEnd, ...dashC}),
      Plot.ruleY(levelsBeta.slice(1), {x1: xdC[0], x2: lineEnd, ...dotO}),
      Plot.line(traceBeta, {x: X, y: Y, stroke: "black", strokeWidth: 0.9}),
      Plot.ruleX([xdC[0]], {y1: yd[0], y2: yd[1], stroke: "black"}),
      Plot.text([barLabelsC[1]], {text: d => d, x: 62, y: -1.5, dy: -3, textAnchor: "start", lineAnchor: "bottom", fontSize: 9.5}),
      Plot.text(["c"], {text: d => d, x: labelX, y: levelsBeta[0], textAnchor: "start", fontSize: 9}),
      Plot.text(["o\u2081"], {text: d => d, x: labelX, y: levelsBeta[1], dy: 2, textAnchor: "start", fontSize: 9}),
      Plot.text([greekC[1]], {text: d => d, x: greekX, y: -2.45, fontFamily: SERIF, fontSize: 19})
    ]
  });
  place(chart, 400, 345);
}
{
  const yd = [-2.546, -1.52];
  const chart = Plot.plot({
    ...frame(400, 415, 320, 75, 456.7, 691.7, 423.3, 446.75),
    style: baseStyle,
    x: {domain: xdC, ticks: msTicks, tickSize: 4, tickPadding: 2, tickFormat: fmt, label: null},
    y: {domain: yd, ticks: gammaTicks, tickSize: 4, tickFormat: fmt, label: null},
    marks: [
      Plot.ruleY([levelsGamma[0]], {x1: xdC[0], x2: lineEnd, ...dashC}),
      Plot.line(traceGamma, {x: X, y: Y, stroke: "black", strokeWidth: 0.9}),
      Plot.ruleX([xdC[0]], {y1: yd[0], y2: yd[1], stroke: "black"}),
      Plot.ruleY([yd[0]], {x1: xdC[0], x2: xdC[1], stroke: "black"}),
      Plot.text(["c"], {text: d => d, x: labelX, y: levelsGamma[0], textAnchor: "start", fontSize: 9}),
      Plot.text([greekC[2]], {text: d => d, x: greekX, y: -2.1, fontFamily: SERIF, fontSize: 19}),
      Plot.text(["Time (ms)"], {text: d => d, frameAnchor: "bottom", dx: 14.5, dy: 26, ...axisTitle})
    ]
  });
  place(chart, 400, 415);
}
</script></body></html>
